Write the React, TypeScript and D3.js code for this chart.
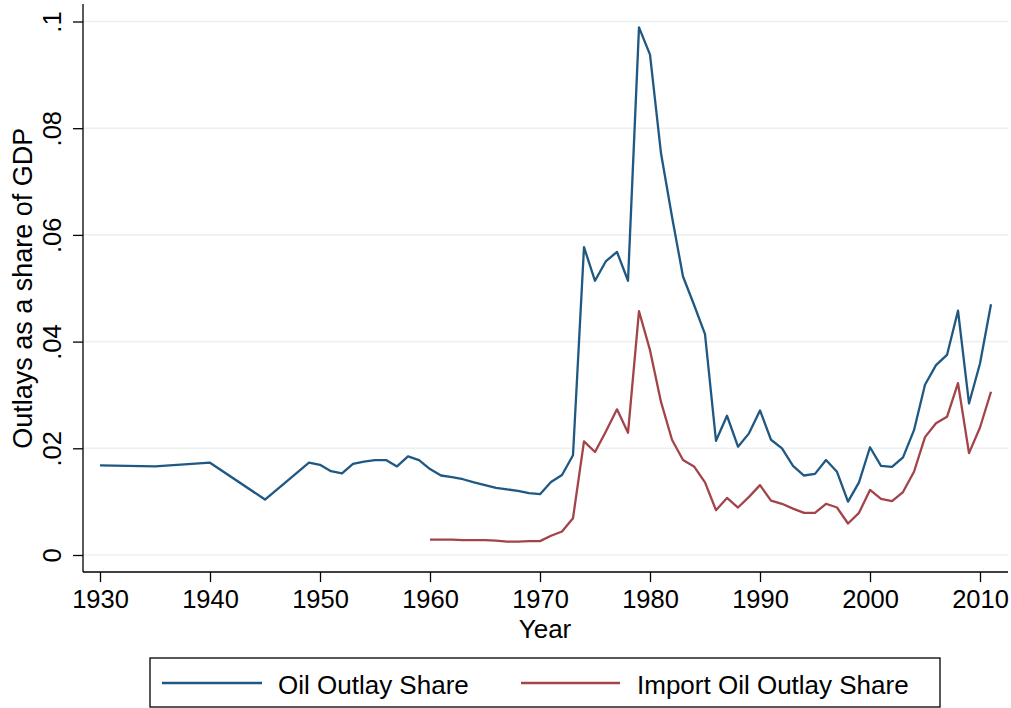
import React, { useEffect, useRef } from "react";
import * as d3 from "d3";

const oilYears = [1930, 1935, 1940, 1945,
  1949, 1950, 1951, 1952, 1953, 1954, 1955, 1956, 1957, 1958, 1959,
  1960, 1961, 1962, 1963, 1964, 1965, 1966, 1967, 1968, 1969,
  1970, 1971, 1972, 1973, 1974, 1975, 1976, 1977, 1978, 1979,
  1980, 1981, 1982, 1983, 1984, 1985, 1986, 1987, 1988, 1989,
  1990, 1991, 1992, 1993, 1994, 1995, 1996, 1997, 1998, 1999,
  2000, 2001, 2002, 2003, 2004, 2005, 2006, 2007, 2008, 2009,
  2010, 2011];
const oilShare = [0.0168, 0.0166, 0.0173, 0.0104,
  0.0173, 0.0169, 0.0157, 0.0153, 0.0171, 0.0175, 0.0178, 0.0178, 0.0166, 0.0185, 0.0178,
  0.0161, 0.0149, 0.0146, 0.0142, 0.0136, 0.0131, 0.0126, 0.0123, 0.0120, 0.0116,
  0.0114, 0.0137, 0.0150, 0.0187, 0.0577, 0.0514, 0.0551, 0.0568, 0.0514, 0.0989,
  0.0938, 0.0753, 0.0634, 0.0522, 0.0469, 0.0414, 0.0214, 0.0261, 0.0203, 0.0228,
  0.0271, 0.0216, 0.0200, 0.0167, 0.0149, 0.0152, 0.0178, 0.0156, 0.0100, 0.0136,
  0.0202, 0.0167, 0.0165, 0.0183, 0.0234, 0.0319, 0.0356, 0.0375, 0.0458, 0.0284,
  0.0359, 0.0470];

const importYears = d3.range(1960, 2012);
const importShare = [
  0.0029, 0.0029, 0.0029, 0.0028, 0.0028, 0.0028, 0.0027, 0.0025, 0.0025, 0.0026,
  0.0026, 0.0036, 0.0044, 0.0069, 0.0213, 0.0193, 0.0232, 0.0273, 0.0229, 0.0457,
  0.0384, 0.0287, 0.0216, 0.0178, 0.0166, 0.0136, 0.0084, 0.0107, 0.0089, 0.0109,
  0.0131, 0.0102, 0.0096, 0.0087, 0.0079, 0.0079, 0.0096, 0.0089, 0.0059, 0.0079,
  0.0122, 0.0105, 0.0101, 0.0118, 0.0156, 0.0221, 0.0247, 0.0259, 0.0322, 0.0191,
  0.0239, 0.0306];

const xTicks = [1930, 1940, 1950, 1960, 1970, 1980, 1990, 2000, 2010];
const yTicks = [0, 0.02, 0.04, 0.06, 0.08, 0.1];
const yTickLabels = ["0", ".02", ".04", ".06", ".08", ".1"];
const seriesNames = ["Oil Outlay Share", "Import Oil Outlay Share"];
const seriesColors = ["#1f5883", "#a3434a"];

export default function App() {
  const ref = useRef<SVGSVGElement>(null);

  useEffect(() => {
    document.body.style.margin = "0";
    const svg = d3.select(ref.current).html("");
    const font = "'Liberation Sans', Arial, Helvetica, sans-serif";

    const left = 83, right = 1008, top = 4, bottom = 572;
    const x = d3.scaleLinear().domain([1930, 2010]).range([100, 980]);
    const y = d3.scaleLinear().domain([0, 0.1]).range([555, 21.5]);

    // gridlines
    svg.append("g")
      .selectAll("line")
      .data(yTicks)
      .join("line")
      .attr("x1", left).attr("x2", right)
      .attr("y1", d => y(d)).attr("y2", d => y(d))
      .attr("stroke", "#eaf1f2")
      .attr("stroke-width", 1.6);

    // x axis
    const gx = svg.append("g")
      .attr("transform", `translate(0,${bottom})`)
      .call(d3.axisBottom(x).tickValues(xTicks).tickSize(10).tickPadding(8)
        .tickFormat(d3.format("d")));
    gx.select(".domain").remove();
    gx.selectAll("line").attr("stroke", "#000").attr("stroke-width", 1.3);
    gx.selectAll("text")
      .attr("font-family", font).attr("font-size", 25.5).attr("fill", "#000");
    svg.append("line")
      .attr("x1", left).attr("x2", right).attr("y1", bottom).attr("y2", bottom)
      .attr("stroke", "#000").attr("stroke-width", 1.3);

    // y axis
    const gy = svg.append("g")
      .attr("transform", `translate(${left},0)`)
      .call(d3.axisLeft(y).tickValues(yTicks).tickSize(10)
        .tickFormat((d, i) => yTickLabels[i]));
    gy.select(".domain").remove();
    gy.selectAll("line").attr("stroke", "#000").attr("stroke-width", 1.3);
    gy.selectAll("text")
      .attr("font-family", font).attr("font-size", 25.5).attr("fill", "#000")
      .attr("x", null).attr("dy", null)
      .attr("text-anchor", "middle")
      .attr("transform", "translate(-22,0) rotate(-90)");
    svg.append("line")
      .attr("x1", left).attr("x2", left).attr("y1", top).attr("y2", bottom)
      .attr("stroke", "#000").attr("stroke-width", 1.3);

    // titles
    svg.append("text")
      .attr("x", 545).attr("y", 638)
      .attr("text-anchor", "middle")
      .attr("font-family", font).attr("font-size", 26)
      .text("Year");
    svg.append("text")
      .attr("transform", `translate(32,${(y(0) + y(0.1)) / 2}) rotate(-90)`)
      .attr("text-anchor", "middle")
      .attr("font-family", font).attr("font-size", 27)
      .text("Outlays as a share of GDP");

    // lines
    const line = d3.line<[number, number]>()
      .x(d => x(d[0]))
      .y(d => y(d[1]));
    const series: [number, number][][] = [
      oilYears.map((yr, i) => [yr, oilShare[i]]),
      importYears.map((yr, i) => [yr, importShare[i]]),
    ];
    svg.append("g")
      .selectAll("path")
      .data(series)
      .join("path")
      .attr("d", d => line(d))
      .attr("fill", "none")
      .attr("stroke", (d, i) => seriesColors[i])
      .attr("stroke-width", 2.3)
      .attr("stroke-linejoin", "round");

    // legend
    const lg = svg.append("g");
    lg.append("rect")
      .attr("x", 150).attr("y", 658).attr("width", 790).attr("height", 49)
      .attr("fill", "#fff").attr("stroke", "#000").attr("stroke-width", 1.3);
    const items = [
      { x1: 162, x2: 262, tx: 278 },
      { x1: 521, x2: 620, tx: 637 },
    ];
    items.forEach((it, i) => {
      lg.append("line")
        .attr("x1", it.x1).attr("x2", it.x2).attr("y1", 683).attr("y2", 683)
        .attr("stroke", seriesColors[i]).attr("stroke-width", 2.3);
      lg.append("text")
        .attr("x", it.tx).attr("y", 694)
        .attr("font-family", font).attr("font-size", 26)
        .text(seriesNames[i]);
    });
  }, []);

  return (
    <div>
      <svg ref={ref} width="1011" height="708" style={{ display: "block", background: "#fff" }}></svg>
    </div>
  );
}
